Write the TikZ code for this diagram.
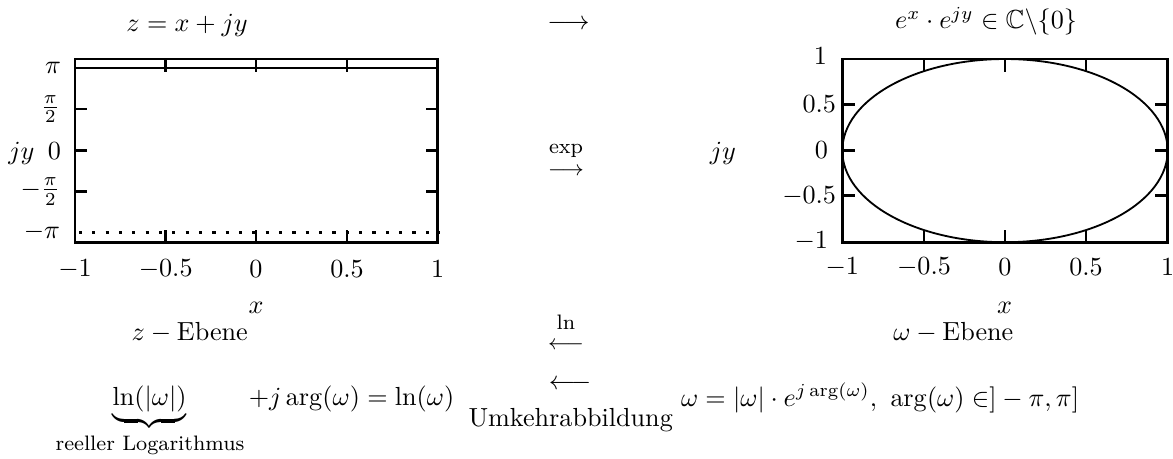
\documentclass[tikz,border=0pt]{standalone}
\usepackage{amsmath,amssymb}
\begin{document}
\begin{tikzpicture}[x=0.3824pt,y=-0.3824pt,
  lbl/.style={inner sep=0pt,outer sep=0pt},
  small/.style={inner sep=0pt,outer sep=0pt,font=\fontsize{8}{9.6}\selectfont},
  frame/.style={line width=0.95pt},
  tickline/.style={line width=0.95pt},
  curve/.style={line width=0.7pt}]
\useasboundingbox (0,0) rectangle (1173,458);

% ---------- left plot ----------
\draw[frame] (75,59) rectangle (437.7,242.7);
\foreach \x in {165.7,256,347}{
  \draw[tickline] (\x,59) -- ++(0,12.5);
  \draw[tickline] (\x,242.7) -- ++(0,-12.5);
}
\foreach \y in {109,150.7,191.7}{
  \draw[tickline] (75,\y) -- ++(12,0);
  \draw[tickline] (437.7,\y) -- ++(-12,0);
}
\draw[line width=0.95pt] (75,68) -- (437.7,68);
\draw[line width=1.25pt,dash pattern=on 1.2pt off 3.9pt] (79,232.3) -- (440,232.3);

\node[lbl,anchor=east] (lyA) at (61,68) {$\pi$};
\node[lbl,anchor=east] (lyB) at (60,109) {$\frac{\pi}{2}$};
\node[lbl,anchor=east] (lyC) at (61,150.7) {$0$};
\node[lbl,anchor=east] (lyD) at (60,191.7) {$-\frac{\pi}{2}$};
\node[lbl,anchor=east] (lyE) at (60,232.3) {$-\pi$};
\node[lbl,anchor=base] (ljy) at (21.5,159) {$jy$};
\foreach \x/\t [count=\i] in {75/-1,165.7/-0.5,256/0,347/0.5,437.7/1}{
  \node[lbl] (lx\i) at (\x,269) {$\t$};
}
\node[lbl] (lxl) at (256,308) {$x$};

% ---------- right plot ----------
\draw[frame] (842.3,59) rectangle (1167.7,242.3);
\foreach \x in {924,1005,1086}{
  \draw[tickline] (\x,59) -- ++(0,12.5);
  \draw[tickline] (\x,242.3) -- ++(0,-12.5);
}
\foreach \y in {104.3,150.5,195.7}{
  \draw[tickline] (842.3,\y) -- ++(12.5,0);
  \draw[tickline] (1167.7,\y) -- ++(-12.5,0);
}
\draw[curve] (1005,150.6) ellipse [x radius=162.7, y radius=91.6];

\node[lbl,anchor=east] (ryA) at (827,56) {$1$};
\node[lbl,anchor=east] (ryB) at (836,104.3) {$0.5$};
\node[lbl,anchor=east] (ryC) at (828,150.5) {$0$};
\node[lbl,anchor=east] (ryD) at (836,195.7) {$-0.5$};
\node[lbl,anchor=east] (ryE) at (828,241) {$-1$};
\node[lbl,anchor=base] (rjy) at (723,159) {$jy$};
\foreach \x/\t [count=\i] in {842.3/-1,924/-0.5,1005/0,1086/0.5,1167.7/1}{
  \node[lbl] (rx\i) at (\x,267) {$\t$};
}
\node[lbl] (rxl) at (1004.5,308) {$x$};

% ---------- top row ----------
\node[lbl,anchor=base] (zdef) at (187,31) {$z=x+jy$};
\node[lbl,anchor=base] (toparrow) at (568.5,29.5) {$\longrightarrow$};
\node[lbl,anchor=base] (img) at (986,28.5) {$e^x\cdot e^{jy}\in\mathbb{C}\backslash\{0\}$};

% ---------- middle arrows ----------
\node[small] (explbl) at (566,150.7) {$\exp$};
\node[small,anchor=base] (exparrow) at (566,175.9) {$\longrightarrow$};
\node[small] (lnlbl) at (566,322.7) {$\ln$};
\node[small,anchor=base] (lnarrow) at (566,349.2) {$\longleftarrow$};

% ---------- plane labels ----------
\node[lbl,anchor=base west] (zeb) at (131.7,340) {$z-\text{Ebene}$};
\node[lbl,anchor=base west] (web) at (893.3,340) {$\omega-\text{Ebene}$};

% ---------- bottom row ----------
\node[lbl,anchor=base] (lnabs) at (149.5,405) {$\underbrace{\ln(|\omega|)}$};
\node[small,anchor=base] (reell) at (150,450) {reeller Logarithmus};
\node[lbl,anchor=base] (rest) at (351.5,405) {$+j\arg(\omega)=\ln(\omega)$};
\node[lbl,anchor=base] (invarrow) at (570,389.8) {$\longleftarrow$};
\node[lbl,anchor=base] (umk) at (570.7,426.7) {Umkehrabbildung};
\node[lbl,anchor=base west] (polar) at (681,406) {$\omega=|\omega|\cdot e^{j\arg(\omega)},\ \arg(\omega)\in]-\pi,\pi]$};
\end{tikzpicture}
\end{document}
